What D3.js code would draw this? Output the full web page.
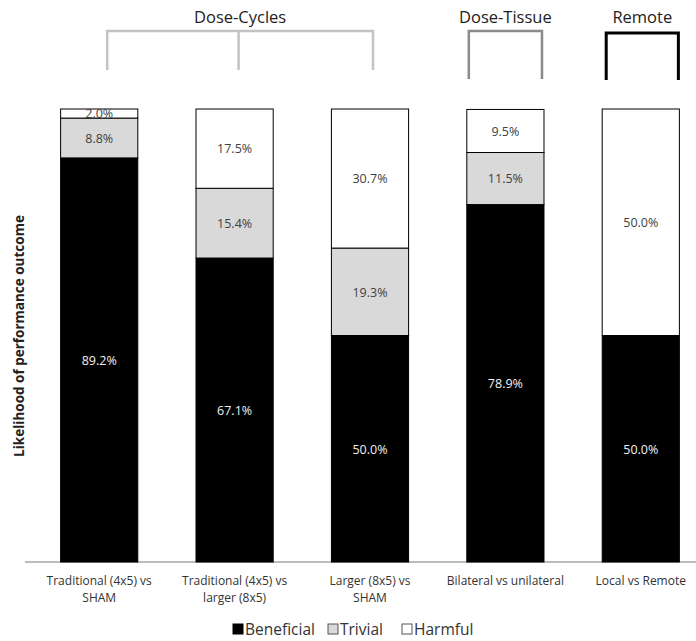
<!DOCTYPE html>
<html>
<head>
<meta charset="utf-8">
<script src="https://cdn.jsdelivr.net/npm/d3@7"></script>
<style>
  body { margin: 0; background: #fff; }
  text { font-family: "Open Sans", "Noto Sans", sans-serif; }
</style>
</head>
<body>
<script>
// data
var categories = [
  ["Traditional (4x5) vs", "SHAM"],
  ["Traditional (4x5) vs", "larger (8x5)"],
  ["Larger (8x5) vs", "SHAM"],
  ["Bilateral vs unilateral"],
  ["Local vs Remote"]
];
var beneficial = [89.2, 67.1, 50.0, 78.9, 50.0];
var trivial    = [8.8, 15.4, 19.3, 11.5, 0];
var harmful    = [2.0, 17.5, 30.7, 9.5, 50.0];
var seriesNames = ["Beneficial", "Trivial", "Harmful"];
var seriesColors = ["#000000", "#d9d9d9", "#ffffff"];

var groupNames = ["Dose-Cycles", "Dose-Tissue", "Remote"];
var groupFirst = [0, 3, 4];
var groupLast  = [2, 3, 4];
var groupColors = ["#c3c3c3", "#8a8a8a", "#000000"];

var W = 696, H = 641;
var svg = d3.select("body").append("svg")
  .attr("width", W).attr("height", H);

var rows = categories.map(function(c, i){
  return {i: i, Beneficial: beneficial[i], Trivial: trivial[i], Harmful: harmful[i]};
});
var stack = d3.stack().keys(seriesNames)(rows);

var x = d3.scaleBand().domain(d3.range(categories.length))
  .range([20, 720]).paddingInner(0.43).paddingOuter(0.3);
var y = d3.scaleLinear().domain([0, 100]).range([562, 109]);

// axis baseline
svg.append("line")
  .attr("x1", 25).attr("x2", W).attr("y1", y(0)).attr("y2", y(0))
  .attr("stroke", "#a6a6a6").attr("stroke-width", 1.3);

// stacked bars
stack.forEach(function(layer, k){
  var g = svg.append("g");
  g.selectAll("rect").data(layer.filter(function(d){ return d[1] - d[0] > 0; }))
    .enter().append("rect")
    .attr("x", function(d){ return x(d.data.i); })
    .attr("width", x.bandwidth())
    .attr("y", function(d){ return y(d[1]); })
    .attr("height", function(d){ return y(d[0]) - y(d[1]); })
    .attr("fill", seriesColors[k])
    .attr("stroke", "#000").attr("stroke-width", 1);
  g.selectAll("text").data(layer.filter(function(d){ return d[1] - d[0] > 0; }))
    .enter().append("text")
    .attr("x", function(d){ return x(d.data.i) + x.bandwidth() / 2; })
    .attr("y", function(d){ return (y(d[0]) + y(d[1])) / 2; })
    .attr("dy", "0.38em")
    .attr("text-anchor", "middle")
    .attr("font-size", 12.5)
    .attr("fill", k === 0 ? "#f2f2f2" : "#404040")
    .text(function(d){ return (d[1] - d[0]).toFixed(1) + "%"; });
});

// category labels
var lab = svg.append("g").selectAll("text").data(categories).enter().append("text")
  .attr("x", function(d, i){ return x(i) + x.bandwidth() / 2; })
  .attr("y", 585)
  .attr("text-anchor", "middle")
  .attr("font-size", 12)
  .attr("fill", "#333");
lab.selectAll("tspan").data(function(d){ return d; }).enter().append("tspan")
  .attr("x", function(){ return d3.select(this.parentNode).attr("x"); })
  .attr("dy", function(d, j){ return j === 0 ? 0 : 17; })
  .text(function(d){ return d; });

// y axis title
svg.append("text")
  .attr("transform", "translate(24,336) rotate(-90)")
  .attr("text-anchor", "middle")
  .attr("font-size", 13.5)
  .attr("font-weight", "bold")
  .attr("fill", "#222")
  .text("Likelihood of performance outcome");

// group brackets
var bTop = [31, 31, 33], bBot = [70, 79, 80];
groupNames.forEach(function(name, g){
  var x0, x1;
  if (g === 0) {
    x0 = x(groupFirst[g]) + x.bandwidth() / 2 + 8;
    x1 = x(groupLast[g]) + x.bandwidth() / 2 + 3;
  } else {
    x0 = x(groupFirst[g]) + (g === 1 ? 2 : 4);
    x1 = x(groupLast[g]) + x.bandwidth() - (g === 1 ? 2 : 1);
  }
  var p = "M" + x0 + "," + bBot[g] + "V" + bTop[g] + "H" + x1 + "V" + bBot[g];
  svg.append("path").attr("d", p).attr("fill", "none")
    .attr("stroke", groupColors[g]).attr("stroke-width", g === 2 ? 3 : 2.5);
  if (g === 0) {
    var xm = x(1) + x.bandwidth() / 2 + 4;
    svg.append("line").attr("x1", xm).attr("x2", xm)
      .attr("y1", bTop[g]).attr("y2", bBot[g])
      .attr("stroke", groupColors[g]).attr("stroke-width", 2.5);
  }
  svg.append("text")
    .attr("x", (x0 + x1) / 2).attr("y", 23)
    .attr("text-anchor", "middle")
    .attr("font-size", 16.5)
    .attr("fill", "#222")
    .text(name);
});

// legend
var legX = [233, 328, 402];
var leg = svg.append("g").selectAll("g").data(seriesNames).enter().append("g")
  .attr("transform", function(d, i){ return "translate(" + legX[i] + ",624)"; });
leg.append("rect").attr("width", 10).attr("height", 10)
  .attr("fill", function(d, i){ return seriesColors[i]; })
  .attr("stroke", function(d, i){ return i === 0 ? "#000" : "#555"; });
leg.append("text").attr("x", 12).attr("y", 10.5)
  .attr("font-size", 15.5).attr("fill", "#333")
  .text(function(d){ return d; });
</script>
</body>
</html>
